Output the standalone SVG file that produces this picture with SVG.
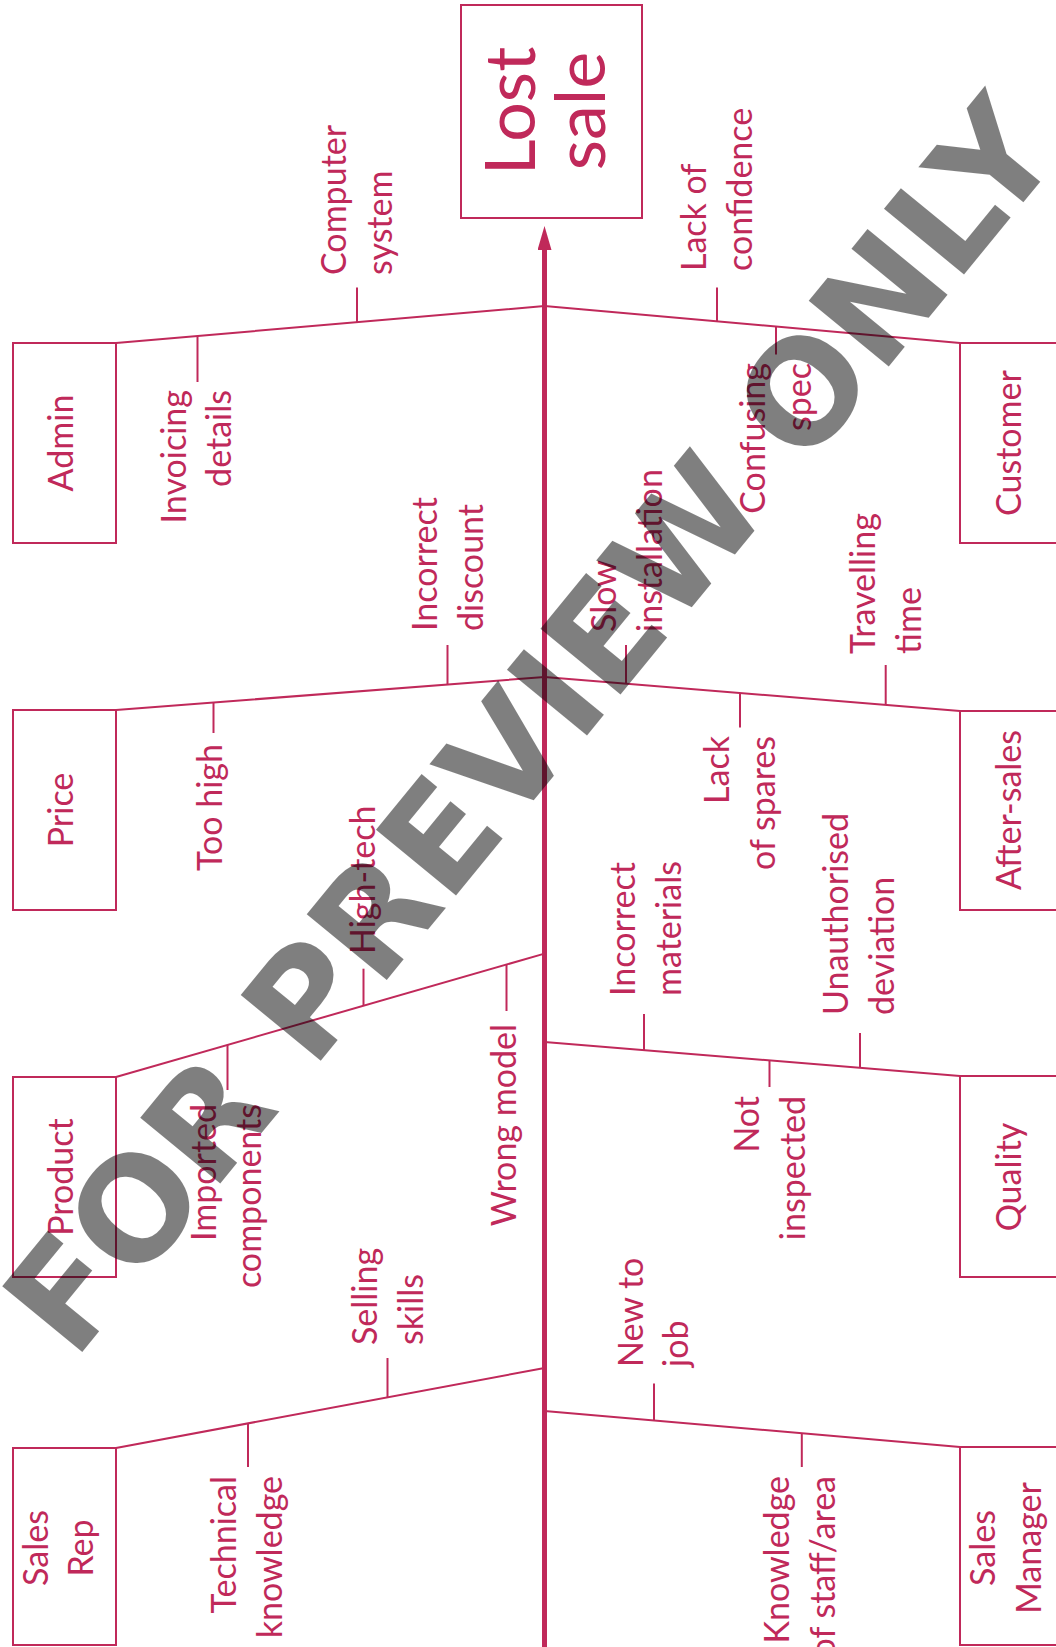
<svg xmlns="http://www.w3.org/2000/svg" width="1056" height="1647" viewBox="0 0 1056 1647">
<style>
.ln{stroke:#C0295A;stroke-width:2;fill:none}
.spine{stroke:#C0295A;stroke-width:5;fill:none}
.box{fill:#fff;stroke:#C0295A;stroke-width:2}
.t{font-family:Lato,"Liberation Sans",sans-serif;font-size:34px;fill:#C0295A}
.big{font-family:Lato,"Liberation Sans",sans-serif;font-size:70px;fill:#C0295A}
.wm{font-family:"DejaVu Sans",sans-serif;font-weight:bold;font-size:142px;fill:#000;fill-opacity:0.5}
</style>
<defs>
<marker id="arrow" markerUnits="userSpaceOnUse" markerWidth="24" markerHeight="14" refX="4" refY="7" orient="auto">
<path d="M0,0 L24,7 L0,14 z" fill="#C0295A"/>
</marker>
</defs>
<rect width="1056" height="1647" fill="#fff"/>
<g id="connectors">
<line class="spine" x1="544.5" y1="1650" x2="544.5" y2="246" marker-end="url(#arrow)"/>
<polyline class="ln" points="116,343 544.5,306 960,343"/>
<polyline class="ln" points="116,710 544.5,677 960,711"/>
<line class="ln" x1="116" y1="1077" x2="544.5" y2="953.6"/>
<line class="ln" x1="544.5" y1="1042" x2="960" y2="1076"/>
<line class="ln" x1="116" y1="1448" x2="544.5" y2="1368"/>
<line class="ln" x1="544.5" y1="1411" x2="960" y2="1447"/>
<!-- ticks -->
<line class="ln" x1="357" y1="287.5" x2="357" y2="322.2"/>
<line class="ln" x1="197.5" y1="336" x2="197.5" y2="382"/>
<line class="ln" x1="717" y1="287.5" x2="717" y2="321.4"/>
<line class="ln" x1="776" y1="326.6" x2="776" y2="354.6"/>
<line class="ln" x1="447.5" y1="645" x2="447.5" y2="684.5"/>
<line class="ln" x1="213.5" y1="702.5" x2="213.5" y2="733"/>
<line class="ln" x1="626" y1="645" x2="626" y2="683.7"/>
<line class="ln" x1="740" y1="693" x2="740" y2="727.5"/>
<line class="ln" x1="885.7" y1="665" x2="885.7" y2="704.9"/>
<line class="ln" x1="506.5" y1="964.5" x2="506.5" y2="1011"/>
<line class="ln" x1="363.5" y1="968.7" x2="363.5" y2="1005.7"/>
<line class="ln" x1="227.5" y1="1044.9" x2="227.5" y2="1090"/>
<line class="ln" x1="644" y1="1014" x2="644" y2="1050.1"/>
<line class="ln" x1="769.5" y1="1060.4" x2="769.5" y2="1087"/>
<line class="ln" x1="860" y1="1033" x2="860" y2="1067.8"/>
<line class="ln" x1="387.5" y1="1358" x2="387.5" y2="1397.3"/>
<line class="ln" x1="248" y1="1423.4" x2="248" y2="1467"/>
<line class="ln" x1="654" y1="1383.6" x2="654" y2="1420.5"/>
<line class="ln" x1="801.8" y1="1433.3" x2="801.8" y2="1467"/>
</g>
<g id="lost-sale">
<rect class="box" x="461" y="5" width="181" height="213"/>
<text class="big" text-anchor="middle" transform="translate(535,111) rotate(-90)"><tspan x="0" y="0">Lost</tspan><tspan x="0" y="70">sale</tspan></text>
</g>
<g id="admin">
<rect class="box" x="13" y="343" width="103" height="200"/>
<text class="t" text-anchor="middle" transform="translate(73,443) rotate(-90)">Admin</text>
</g>
<g id="price">
<rect class="box" x="13" y="710" width="103" height="200"/>
<text class="t" text-anchor="middle" transform="translate(73,810) rotate(-90)">Price</text>
</g>
<g id="product">
<rect class="box" x="13" y="1077" width="103" height="200"/>
<text class="t" text-anchor="middle" transform="translate(73,1177) rotate(-90)">Product</text>
</g>
<g id="sales-rep">
<rect class="box" x="13" y="1448" width="103" height="197"/>
<text class="t" text-anchor="middle" transform="translate(47.5,1548) rotate(-90)"><tspan x="0" y="0">Sales</tspan><tspan x="0" y="45.5">Rep</tspan></text>
</g>
<g id="customer">
<rect class="box" x="960" y="343" width="104" height="200"/>
<text class="t" text-anchor="middle" transform="translate(1021,443) rotate(-90)">Customer</text>
</g>
<g id="after-sales">
<rect class="box" x="960" y="711" width="104" height="199"/>
<text class="t" text-anchor="middle" transform="translate(1021,810) rotate(-90)">After-sales</text>
</g>
<g id="quality">
<rect class="box" x="960" y="1076" width="104" height="201"/>
<text class="t" text-anchor="middle" transform="translate(1021,1177) rotate(-90)">Quality</text>
</g>
<g id="sales-manager">
<rect class="box" x="960" y="1447" width="104" height="198"/>
<text class="t" text-anchor="middle" transform="translate(994.6,1548) rotate(-90)"><tspan x="0" y="0">Sales</tspan><tspan x="0" y="46.4">Manager</tspan></text>
</g>
<g id="causes">
<text class="t" text-anchor="start" transform="translate(346,275) rotate(-90)"><tspan x="0" y="0">Computer</tspan><tspan x="0" y="46">system</tspan></text>
<text class="t" text-anchor="end" transform="translate(186,390) rotate(-90)"><tspan x="0" y="0">Invoicing</tspan><tspan x="0" y="45">details</tspan></text>
<text class="t" text-anchor="start" transform="translate(437,631) rotate(-90)"><tspan x="0" y="0">Incorrect</tspan><tspan x="0" y="46">discount</tspan></text>
<text class="t" text-anchor="end" transform="translate(222,744) rotate(-90)">Too high</text>
<text class="t" text-anchor="start" transform="translate(375,954) rotate(-90)">High-tech</text>
<text class="t" text-anchor="end" transform="translate(516,1024) rotate(-90)">Wrong model</text>
<text class="t" text-anchor="end" transform="translate(216,1104) rotate(-90)"><tspan x="0" y="0">Imported</tspan><tspan x="0" y="45">components</tspan></text>
<text class="t" text-anchor="start" transform="translate(377,1345) rotate(-90)"><tspan x="0" y="0">Selling</tspan><tspan x="0" y="46">skills</tspan></text>
<text class="t" text-anchor="end" transform="translate(236,1476) rotate(-90)"><tspan x="0" y="0">Technical</tspan><tspan x="0" y="46">knowledge</tspan></text>
<text class="t" text-anchor="start" transform="translate(706,271) rotate(-90)"><tspan x="0" y="0">Lack of</tspan><tspan x="0" y="46">confidence</tspan></text>
<text class="t" text-anchor="end" transform="translate(765,363) rotate(-90)"><tspan x="0" y="0">Confusing</tspan><tspan x="0" y="46">spec</tspan></text>
<text class="t" text-anchor="start" transform="translate(616,632) rotate(-90)"><tspan x="0" y="0">Slow</tspan><tspan x="0" y="46">installation</tspan></text>
<text class="t" text-anchor="start" transform="translate(875,654) rotate(-90)"><tspan x="0" y="0">Travelling</tspan><tspan x="0" y="46">time</tspan></text>
<text class="t" text-anchor="end" transform="translate(729,736) rotate(-90)"><tspan x="0" y="0">Lack</tspan><tspan x="0" y="46">of spares</tspan></text>
<text class="t" text-anchor="start" transform="translate(635,996) rotate(-90)"><tspan x="0" y="0">Incorrect</tspan><tspan x="0" y="46">materials</tspan></text>
<text class="t" text-anchor="start" transform="translate(848,1015) rotate(-90)"><tspan x="0" y="0">Unauthorised</tspan><tspan x="0" y="46">deviation</tspan></text>
<text class="t" text-anchor="end" transform="translate(759,1096) rotate(-90)"><tspan x="0" y="0">Not</tspan><tspan x="0" y="46">inspected</tspan></text>
<text class="t" text-anchor="start" transform="translate(643,1367) rotate(-90)"><tspan x="0" y="0">New to</tspan><tspan x="0" y="45">job</tspan></text>
<text class="t" text-anchor="end" transform="translate(789,1476) rotate(-90)"><tspan x="0" y="0">Knowledge</tspan><tspan x="0" y="46">of staff/area</tspan></text>
</g>
<g id="watermark">
<text class="wm" transform="translate(74,1362) rotate(-50.7)">FOR PREVIEW ONLY</text>
</g>
</svg>
